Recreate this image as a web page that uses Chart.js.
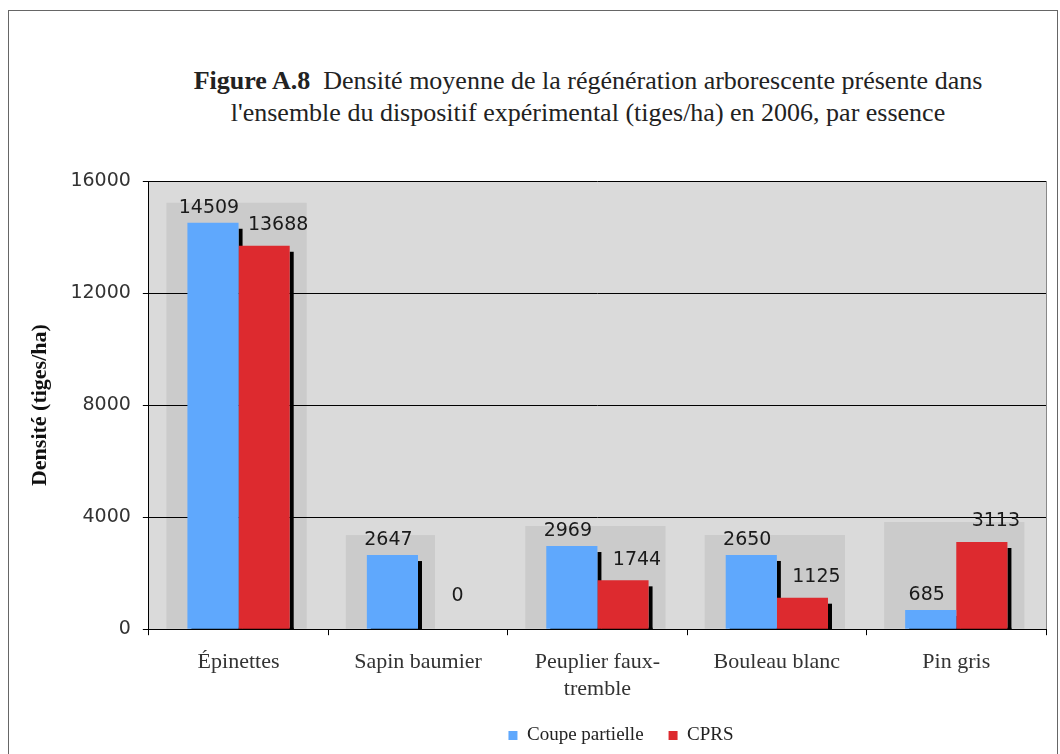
<!DOCTYPE html>
<html>
<head>
<meta charset="utf-8">
<script src="https://cdn.jsdelivr.net/npm/chart.js@4"></script>
<style>
body { margin: 0; background: #fff; overflow: hidden; }
#frame { position: absolute; left: 8px; top: 10px; width: 1050px; height: 760px; border: 1px solid #666; box-sizing: border-box; }
#title { position: absolute; left: 0; top: 65px; width: 1176px; text-align: center; font-family: "Liberation Serif", serif; font-size: 26px; line-height: 32px; color: #222; }
#wrap { position: absolute; left: 0; top: 0; width: 1060px; height: 754px; }
</style>
</head>
<body>
<div id="frame"></div>
<div id="title"><b>Figure A.8</b>&nbsp; Densité moyenne de la régénération arborescente présente dans<br>l'ensemble du dispositif expérimental (tiges/ha) en 2006, par essence</div>
<div id="wrap"><canvas id="chart" width="1060" height="754"></canvas></div>
<script>
var categories = [['Épinettes'], ['Sapin baumier'], ['Peuplier faux-', 'tremble'], ['Bouleau blanc'], ['Pin gris']];
var coupePartielle = [14509, 2647, 2969, 2650, 685];
var cprs = [13688, 0, 1744, 1125, 3113];
var yTicks = [0, 4000, 8000, 12000, 16000];

var blue = '#5fa8fd';
var red = '#dd2a2f';

// gray plot area + darker box behind each group
var backPlugin = {
    id: 'back',
    beforeDraw: function(chart) {
        var ctx = chart.ctx;
        var a = chart.chartArea;
        ctx.save();
        ctx.fillStyle = '#dadada';
        ctx.fillRect(a.left, a.top, a.right - a.left, a.bottom - a.top);
        var m0 = chart.getDatasetMeta(0).data;
        var m1 = chart.getDatasetMeta(1).data;
        ctx.fillStyle = '#cbcbcb';
        for (var i = 0; i < m0.length; i++) {
            var b0 = m0[i], b1 = m1[i];
            var left = b0.x - b0.width / 2 - 21;
            var right = (cprs[i] > 0 ? b1.x + b1.width / 2 : b0.x + b0.width / 2) + 17;
            var top = Math.min(b0.y, b1.y) - 20;
            ctx.fillRect(left, top, right - left, b0.base - top);
        }
        ctx.strokeStyle = '#888';
        ctx.lineWidth = 1;
        ctx.beginPath();
        ctx.moveTo(a.right + 0.5, a.top);
        ctx.lineTo(a.right + 0.5, a.bottom);
        ctx.stroke();
        ctx.restore();
    }
};

// black shadow on the right of bars, and value labels
var barPlugin = {
    id: 'bars',
    beforeDatasetsDraw: function(chart) {
        var ctx = chart.ctx;
        ctx.save();
        ctx.fillStyle = '#000';
        chart.data.datasets.forEach(function(ds, d) {
            chart.getDatasetMeta(d).data.forEach(function(bar, i) {
                if (ds.data[i] <= 0) return;
                var x = bar.x + bar.width / 2;
                ctx.fillRect(x, bar.y + 6, 4, bar.base - bar.y - 6 + 1);
                ctx.fillRect(bar.x - bar.width / 2 + 4, bar.base - 1, bar.width, 2);
            });
        });
        ctx.restore();
    },
    afterDatasetsDraw: function(chart) {
        var ctx = chart.ctx;
        ctx.save();
        ctx.font = '19px "DejaVu Sans"';
        ctx.fillStyle = '#1a1a1a';
        ctx.textAlign = 'center';
        ctx.textBaseline = 'bottom';
        chart.data.datasets.forEach(function(ds, d) {
            chart.getDatasetMeta(d).data.forEach(function(bar, i) {
                var dx = d === 0 ? -4 : 14;
                var gap = d === 0 ? 5 : 11;
                if (ds.data[i] === 0) gap = 24;
                ctx.fillText(String(ds.data[i]), bar.x + dx, bar.y - gap);
            });
        });
        ctx.restore();
    }
};

// move legend under the plot like in the original
var legendPlugin = {
    id: 'legendMove',
    afterLayout: function(chart) {
        var lg = chart.legend;
        var dx = 621 - (lg.left + lg.right) / 2;
        var dy = 735 - (lg.top + 25 + 9);
        lg.left += dx; lg.right += dx;
        lg.top += dy; lg.bottom += dy;
    }
};

new Chart(document.getElementById('chart'), {
    type: 'bar',
    data: {
        labels: categories,
        datasets: [{
            label: 'Coupe partielle',
            data: coupePartielle,
            backgroundColor: blue,
            borderWidth: 0,
            barPercentage: 1,
            categoryPercentage: 0.57
        }, {
            label: 'CPRS',
            data: cprs,
            backgroundColor: red,
            borderWidth: 0,
            barPercentage: 1,
            categoryPercentage: 0.57
        }]
    },
    options: {
        responsive: false,
        animation: false,
        layout: { padding: { top: 181, left: 16, right: 14, bottom: -8 } },
        plugins: {
            title: { display: false },
            tooltip: { enabled: false },
            legend: {
                position: 'bottom',
                maxHeight: 46,
                labels: {
                    boxWidth: 9,
                    boxHeight: 9,
                    padding: 25,
                    color: '#222',
                    font: { family: 'Liberation Serif', size: 19 }
                }
            }
        },
        scales: {
            x: {
                grid: { drawOnChartArea: false, color: '#000', tickLength: 6, offset: true },
                border: { color: '#000' },
                ticks: { color: '#333', padding: 14, font: { family: 'Liberation Serif', size: 22 } }
            },
            y: {
                min: yTicks[0],
                max: yTicks[yTicks.length - 1],
                grid: { color: '#000', tickLength: 6 },
                border: { color: '#000' },
                ticks: {
                    stepSize: yTicks[1] - yTicks[0],
                    color: '#333',
                    padding: 12,
                    font: { family: 'DejaVu Sans', size: 19 },
                    callback: function(v) { return String(v); }
                },
                title: {
                    display: true,
                    text: 'Densité (tiges/ha)',
                    color: '#111',
                    padding: { top: 11, bottom: 5 },
                    font: { family: 'Liberation Serif', size: 22, weight: 'bold' }
                }
            }
        }
    },
    plugins: [backPlugin, barPlugin, legendPlugin]
});
</script>
</body>
</html>
